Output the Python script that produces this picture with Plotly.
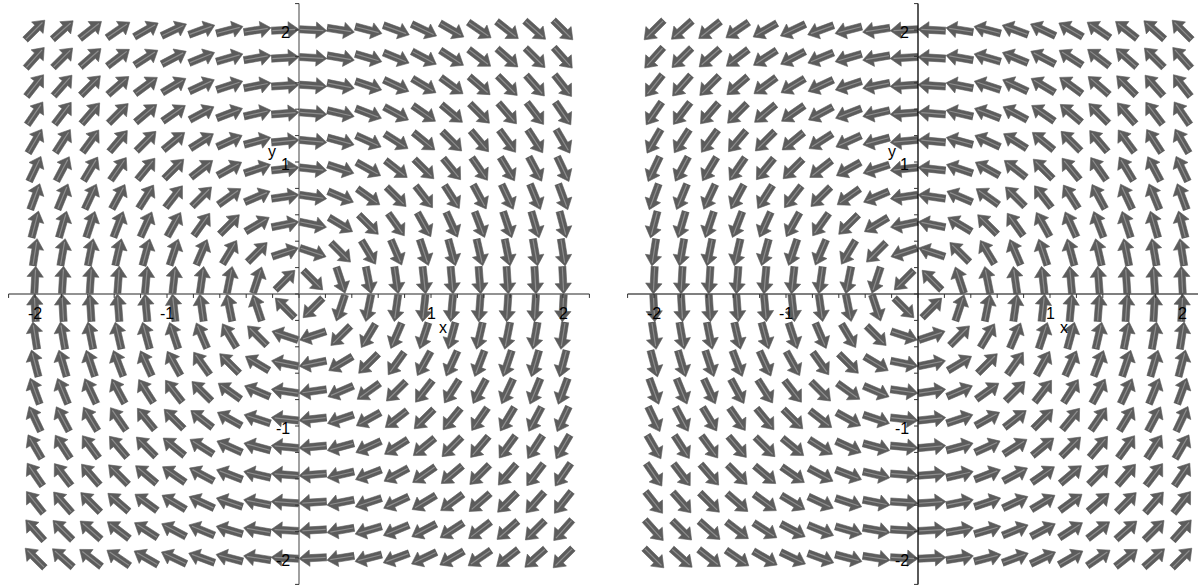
import numpy as np
import plotly.graph_objects as go

# ---- data: direction fields on a 20 x 20 grid over [-2, 2] x [-2, 2]
grid_n = 20
grid_lo, grid_hi = -2.0, 2.0
x_grid = np.linspace(grid_lo, grid_hi, grid_n)
y_grid = np.linspace(grid_lo, grid_hi, grid_n)


def field_left(x, y):
    # x' = y, y' = -x  (clockwise rotation)
    return y, -x


def field_right(x, y):
    # x' = -y, y' = x  (counter-clockwise rotation)
    return -y, x


axis_lo, axis_hi = -2.2, 2.2
minor_ticks = [round(-2.2 + 0.2 * k, 2) for k in range(23)]
label_vals = [-2, -1, 1, 2]
label_text = ["-2", "-1", "1", "2"]

# ---- styling
ARROW_FILL = "#5c5c5c"
ARROW_LIGHT = "#8e8e8e"
L, w, W, h = 0.21, 0.027, 0.062, 0.08
arrow_shape = [(-L / 2, -w), (L / 2 - h, -w), (L / 2 - h, -W), (L / 2, 0),
               (L / 2 - h, W), (L / 2 - h, w), (-L / 2, w)]
TICK = 0.03
FONT = dict(family="Liberation Sans, Arial, sans-serif", size=16, color="black")


def arrow_paths(field):
    xs, ys, lx, ly = [], [], [], []
    for x in x_grid:
        for y in y_grid:
            u, v = field(x, y)
            n = np.hypot(u, v)
            if n == 0:
                continue
            ux, uy = u / n, v / n
            px, py = -uy, ux
            for a, b in arrow_shape:
                xs.append(x + a * ux + b * px)
                ys.append(y + a * uy + b * py)
            xs.append(None)
            ys.append(None)
            for a in (-L / 2 + 0.008, L / 2 - 0.025):
                lx.append(x + a * ux)
                ly.append(y + a * uy)
            lx.append(None)
            ly.append(None)
    return xs, ys, lx, ly


def axis_paths():
    tx, ty = [], []
    for t in minor_ticks:
        tx += [t, t, None]
        ty += [0, -TICK, None]
        tx += [0, -TICK, None]
        ty += [t, t, None]
    return tx, ty


fig = go.Figure()

panels = [
    (field_left, "x", "y", "#6e6e6e", "#6e6e6e", (1.09, -0.25), (-0.205, 1.076)),
    (field_right, "x2", "y2", "#555555", "#000000", (1.106, -0.25), (-0.197, 1.076)),
]

annotations = []
for field, xr, yr, xcol, ycol, xlab, ylab in panels:
    xs, ys, lx, ly = arrow_paths(field)
    fig.add_trace(go.Scatter(x=xs, y=ys, mode="lines", fill="toself",
                             fillcolor=ARROW_FILL,
                             line=dict(color=ARROW_FILL, width=0.6),
                             hoverinfo="skip", showlegend=False,
                             xaxis=xr, yaxis=yr))
    fig.add_trace(go.Scatter(x=lx, y=ly, mode="lines",
                             line=dict(color=ARROW_LIGHT, width=1.2),
                             hoverinfo="skip", showlegend=False,
                             xaxis=xr, yaxis=yr))
    # axes lines
    fig.add_trace(go.Scatter(x=[axis_lo, axis_hi], y=[0, 0], mode="lines",
                             line=dict(color=xcol, width=1.3),
                             hoverinfo="skip", showlegend=False,
                             xaxis=xr, yaxis=yr))
    fig.add_trace(go.Scatter(x=[0, 0], y=[axis_lo, axis_hi], mode="lines",
                             line=dict(color=ycol, width=1.3),
                             hoverinfo="skip", showlegend=False,
                             xaxis=xr, yaxis=yr))
    tx, ty = axis_paths()
    fig.add_trace(go.Scatter(x=tx, y=ty, mode="lines",
                             line=dict(color="#333333", width=1),
                             hoverinfo="skip", showlegend=False,
                             xaxis=xr, yaxis=yr))
    for v, t in zip(label_vals, label_text):
        annotations.append(dict(x=v, y=0, xref=xr, yref=yr, text=t,
                                showarrow=False, xanchor="center",
                                yanchor="top", yshift=-9, font=FONT))
        annotations.append(dict(x=0, y=v, xref=xr, yref=yr, text=t,
                                showarrow=False, xanchor="right",
                                yanchor="middle", xshift=-7, yshift=-2,
                                font=FONT))
    annotations.append(dict(x=xlab[0], y=xlab[1], xref=xr, yref=yr, text="x",
                            showarrow=False, font=FONT))
    annotations.append(dict(x=ylab[0], y=ylab[1], xref=xr, yref=yr, text="y",
                            showarrow=False, font=FONT))

split = 599 / 1198
common = dict(visible=False, fixedrange=True)
fig.update_layout(
    width=1198, height=587,
    margin=dict(l=0, r=0, t=0, b=0),
    paper_bgcolor="white", plot_bgcolor="white",
    xaxis=dict(domain=[0, split], range=[-299 / 132, 300 / 132], anchor="y", **common),
    yaxis=dict(domain=[0, 1], range=[-293 / 132, 294 / 132], anchor="x", **common),
    xaxis2=dict(domain=[split, 1], range=[(599 - 918) / 132, (1198 - 918) / 132],
                anchor="y2", **common),
    yaxis2=dict(domain=[0, 1], range=[-293 / 132, 294 / 132], anchor="x2", **common),
    annotations=annotations,
    showlegend=False,
)

fig.write_html(
    "out.html",
    config={"displayModeBar": False},
    post_script="document.body.style.margin='0';document.body.style.overflow='hidden';",
)
